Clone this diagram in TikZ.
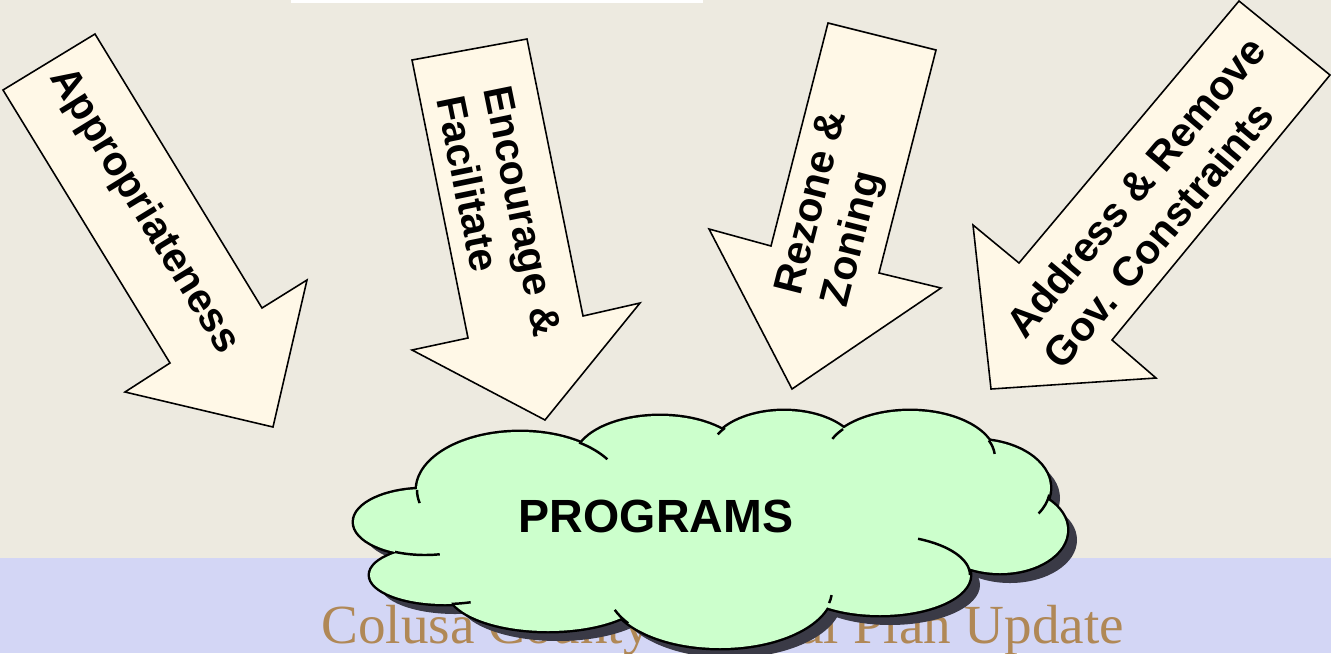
\documentclass[tikz,border=0pt]{standalone}
\usepackage{fontspec}
\setmainfont{Liberation Serif}
\setsansfont{Liberation Sans}
\definecolor{cbg}{RGB}{237,234,224}
\definecolor{cband}{RGB}{211,214,245}
\definecolor{ccream}{RGB}{255,248,231}
\definecolor{cgreen}{RGB}{204,255,204}
\definecolor{cbrown}{RGB}{176,136,86}
\definecolor{cshadow}{RGB}{58,58,70}
\tikzset{slide/.style={x=0.02cm,y=0.02cm},
  blockarr/.style={fill=ccream,draw=black,line width=0.9pt},
  arrtext/.style={font=\sffamily\bfseries\fontsize{23.4}{27.5}\selectfont,align=left,inner sep=0pt},
  cloudline/.style={line width=1.4pt},
  footer/.style={font=\fontsize{31.4}{31.4}\selectfont,text=cbrown,inner sep=0pt}}
% cloud lobes: cx/cy/rx/ry in pixels, y downwards
\newcommand{\cloudlobes}{425/522/71/33, 445/575/75/29, 548/590/100/41, 720/590/112/58,
  880/575/90/40, 1000/530/67/43, 975/488/75/48, 910/458/85/47, 784/455/75/44,
  660/460/85/44, 520/490/103/58, 710/525/290/75}

\begin{document}
\begin{tikzpicture}[slide]
    \fill[cbg] (0,0) rectangle (1331,-653);
    \fill[cband] (0,-558) rectangle (1331,-653);
    \fill[white] (291,0) rectangle (703,-2.5);
    \useasboundingbox (0,0) rectangle (1331,-653);
    \node[footer,anchor=base west] (foot) at (321,-643) {Colusa County General Plan Update};
    % arrows
    \draw[blockarr] (95,-34) -- (262,-308) -- (307,-280) -- (273,-427) -- (125,-392) -- (170,-363) -- (3,-90) -- cycle;
    \draw[blockarr] (412,-60) -- (527,-39) -- (583,-316) -- (640,-303) -- (545,-420) -- (412,-350) -- (468,-338) -- cycle;
    \draw[blockarr] (828,-23) -- (936,-50) -- (879,-273) -- (941,-288) -- (792,-389) -- (709,-229) -- (771,-246) -- cycle;
    \draw[blockarr] (1239,-1) -- (1330,-75) -- (1112,-340) -- (1156,-378) -- (991,-389) -- (973,-225) -- (1019,-263) -- cycle;
    \node[arrtext,rotate=-58.5] (appr) at (144,-211) {Appropriateness};
    \node[arrtext,rotate=-78.5] (enc) at (499,-216) {Encourage \&\\Facilitate};
    \node[arrtext,rotate=75.7] (rez) at (837,-209) {Rezone \&\\Zoning};
    \node[arrtext,rotate=50] (addr) at (1154,-202) {Address \& Remove\\Gov. Constraints};
    % cloud
    \foreach \cx/\cy/\rx/\ry in \cloudlobes \fill[cshadow] (\cx+10,-\cy-10) ellipse [x radius=\rx,y radius=\ry];
    \foreach \cx/\cy/\rx/\ry in \cloudlobes \draw[line width=2.8pt] (\cx,-\cy) ellipse [x radius=\rx,y radius=\ry];
    \foreach \cx/\cy/\rx/\ry in \cloudlobes \fill[cgreen] (\cx,-\cy) ellipse [x radius=\rx,y radius=\ry];
    \foreach \cx/\cy/\rx/\ry/\a/\b in {520/490/103/58/180/193, 520/490/103/58/55/32,
        784/455/75/44/142/152, 910/458/85/47/142/156, 910/458/85/47/22/5,
        975/488/75/48/-8/-32, 880/575/90/40/0/65, 720/590/112/58/-13/-5,
        720/590/112/58/-145/-160, 445/575/75/29/-85/-70, 425/522/71/33/-115/-78}
      \draw[cloudline] (\cx,-\cy) ++({\rx*cos(\a)},{\ry*sin(\a)}) arc[start angle=\a,end angle=\b,x radius=\rx,y radius=\ry];
    \node[font=\sffamily\bfseries\fontsize{26.5}{30}\selectfont,anchor=base,inner sep=0pt] (prog) at (656,-532) {PROGRAMS};
\end{tikzpicture}
\end{document}
